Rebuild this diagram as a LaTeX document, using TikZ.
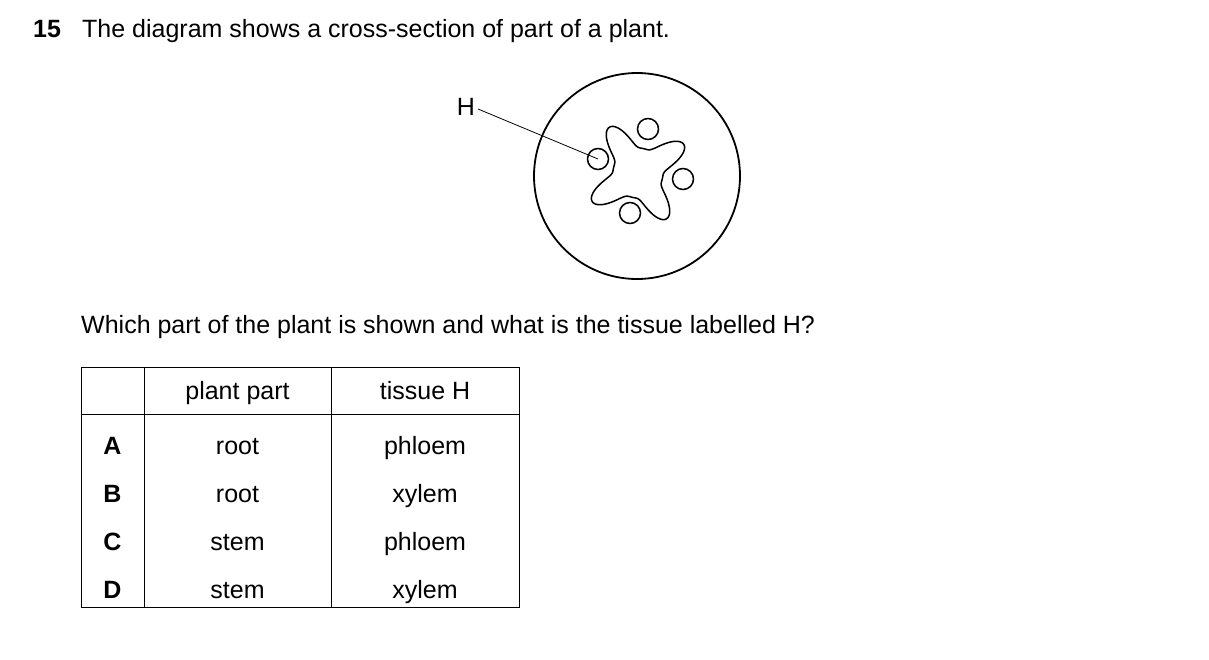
\documentclass[tikz,border=0pt]{standalone}
\usepackage{fontspec}
\setmainfont{Liberation Sans}
\begin{document}
\begin{tikzpicture}[x=1pt,y=-1pt,
  txt/.style={font=\fontsize{25}{30}\selectfont, inner sep=0pt},
  ln/.style={line width=1.5pt},
  cell/.style={txt, anchor=base}]
\path[use as bounding box] (0,0) rectangle (1209,659);
\node[txt,anchor=base west] (num) at (33,37) {\textbf{15}};
\node[txt,anchor=base west] (title) at (82,37) {The diagram shows a cross-section of part of a plant.};
% diagram
\draw[ln,line width=1.8pt] (637,176) circle (103);
\draw[ln] plot[smooth cycle, domain=0:358, samples=180, variable=\t]
  ({638+(25+29*((1+cos(4*(\t-32)))/2)^2.2)*cos(\t)}, {173-(25+29*((1+cos(4*(\t-32)))/2)^2.2)*sin(\t)});
\node[draw,ln,circle,minimum size=21pt,inner sep=0pt] (c1) at (648,129) {};
\node[draw,ln,circle,minimum size=21pt,inner sep=0pt] (c2) at (598,159) {};
\node[draw,ln,circle,minimum size=21pt,inner sep=0pt] (c3) at (683,179) {};
\node[draw,ln,circle,minimum size=21pt,inner sep=0pt] (c4) at (630,213) {};
\node[txt] (H) at (466,107) {H};
\coordinate (hend) at (c2.center);
\draw[line width=0.8pt] (478,109) -- (hend);
\node[txt,anchor=base west] (q) at (81,333) {Which part of the plant is shown and what is the tissue labelled H?};
% table
\draw[line width=1pt] (81,367) rectangle (519,607);
\draw[line width=1pt] (144,367) -- (144,607) (331,367) -- (331,607) (81,414) -- (519,414);
\node[cell] (h1) at (237.5,399) {plant part};
\node[cell] (h2) at (425,399) {tissue H};
\foreach \l/\p/\t/\y in {A/root/phloem/454, B/root/xylem/502, C/stem/phloem/550, D/stem/xylem/598}{
  \node[cell] at (112.5,\y) {\textbf{\l}};
  \node[cell] at (237.5,\y) {\p};
  \node[cell] at (425,\y) {\t};
}
\end{tikzpicture}
\end{document}
